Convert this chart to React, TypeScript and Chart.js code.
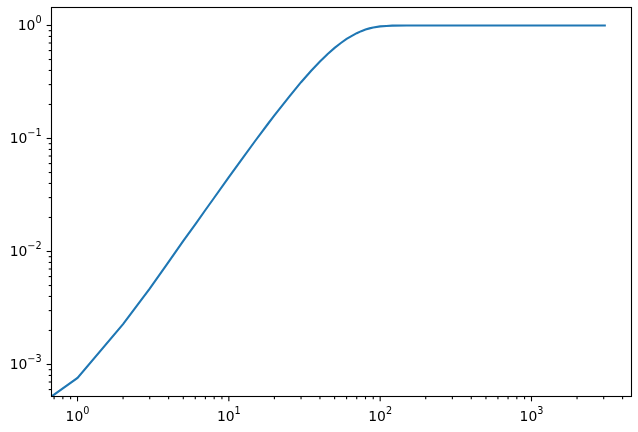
import React, { useEffect, useRef } from 'react';
import { Chart, registerables } from 'chart.js';

Chart.register(...registerables);

// Curve samples (x, y)
const xValues = [0.673, 1, 2, 3, 4, 5, 6, 7, 8, 10, 12, 15, 18, 20, 25, 30, 35, 40, 45, 50, 55, 60, 65, 70, 75, 80, 85, 90, 100, 110, 120, 150, 200, 3100];
const yValues = [0.000521, 0.00076, 0.00228, 0.0047, 0.0081, 0.0124, 0.0174, 0.0233, 0.0299, 0.0455, 0.0638, 0.096, 0.133, 0.16, 0.234, 0.315, 0.398, 0.48, 0.56, 0.634, 0.70, 0.76, 0.81, 0.855, 0.891, 0.921, 0.943, 0.961, 0.982, 0.991, 0.997, 0.9998, 1, 1];

// Axis ranges
const xRange = [0.673, 4580];
const yRange = [0.000521, 1.443];

// Decade tick labels: value, base text, exponent text
const xTickValues = [1, 10, 100, 1000];
const xTickBases = ['10', '10', '10', '10'];
const xTickExps = ['0', '1', '2', '3'];
const yTickValues = [0.001, 0.01, 0.1, 1];
const yTickBases = ['10', '10', '10', '10'];
const yTickExps = ['−3', '−2', '−1', '0'];

const FONT_FAMILY = '"DejaVu Sans"';
const BASE_SIZE = 13.9;
const SUP_SIZE = 9.7;
const SUP_SHIFT = 7;

function logTickValues(min: number, max: number): number[] {
  const out: number[] = [];
  const e0 = Math.floor(Math.log10(min));
  const e1 = Math.ceil(Math.log10(max));
  for (let e = e0; e <= e1; e++) {
    for (let m = 1; m < 10; m++) {
      const v = parseFloat((m * Math.pow(10, e)).toPrecision(12));
      if (v >= min && v <= max) out.push(v);
    }
  }
  return out;
}

function isDecade(v: number): boolean {
  const l = Math.log10(v);
  return Math.abs(l - Math.round(l)) < 1e-9;
}

function drawPowerLabel(ctx: CanvasRenderingContext2D, base: string, exp: string, x: number, baseline: number, align: 'center' | 'right') {
  ctx.font = `${BASE_SIZE}px ${FONT_FAMILY}`;
  const wb = ctx.measureText(base).width;
  ctx.font = `${SUP_SIZE}px ${FONT_FAMILY}`;
  const ws = ctx.measureText(exp).width;
  const total = wb + ws;
  const x0 = align === 'center' ? x - total / 2 : x - total;
  ctx.textAlign = 'left';
  ctx.textBaseline = 'alphabetic';
  ctx.font = `${BASE_SIZE}px ${FONT_FAMILY}`;
  ctx.fillText(base, x0, baseline);
  ctx.font = `${SUP_SIZE}px ${FONT_FAMILY}`;
  ctx.fillText(exp, x0 + wb, baseline - SUP_SHIFT);
}

const axesPlugin = {
  id: 'mplAxes',
  afterDraw(chart: any) {
    const { ctx, chartArea } = chart;
    const { left, right, top, bottom } = chartArea;
    const xs = chart.scales.x;
    const ys = chart.scales.y;
    const major = 4.86;
    const minor = 2.78;
    ctx.save();
    ctx.strokeStyle = '#000';
    ctx.lineWidth = 1.1;
    for (const v of logTickValues(xRange[0], xRange[1])) {
      const px = xs.getPixelForValue(v);
      const len = isDecade(v) ? major : minor;
      ctx.beginPath();
      ctx.moveTo(px, bottom);
      ctx.lineTo(px, bottom + len);
      ctx.stroke();
    }
    for (const v of logTickValues(yRange[0], yRange[1])) {
      const py = ys.getPixelForValue(v);
      const len = isDecade(v) ? major : minor;
      ctx.beginPath();
      ctx.moveTo(left, py);
      ctx.lineTo(left - len, py);
      ctx.stroke();
    }
    ctx.strokeRect(left, top, right - left, bottom - top);

    ctx.fillStyle = '#000';
    xTickValues.forEach((v, i) => {
      const px = xs.getPixelForValue(v);
      drawPowerLabel(ctx, xTickBases[i], xTickExps[i], px, bottom + 24, 'center');
    });
    yTickValues.forEach((v, i) => {
      const py = ys.getPixelForValue(v);
      drawPowerLabel(ctx, yTickBases[i], yTickExps[i], left - 9.9, py + 4.8, 'right');
    });
    ctx.restore();
  },
};

export default function App() {
  const canvasRef = useRef<HTMLCanvasElement | null>(null);

  useEffect(() => {
    if (!canvasRef.current) return;
    const points = xValues.map((x, i) => ({ x, y: yValues[i] }));
    const chart = new Chart(canvasRef.current, {
      type: 'line',
      data: {
        datasets: [
          {
            data: points,
            borderColor: '#1f77b4',
            borderWidth: 2.1,
            pointRadius: 0,
            tension: 0,
            fill: false,
            clip: 0,
          },
        ],
      },
      options: {
        responsive: false,
        animation: false,
        events: [],
        layout: { padding: { left: 0, right: 6.5, top: 7.5, bottom: 0 } },
        plugins: { legend: { display: false }, tooltip: { enabled: false } },
        scales: {
          x: {
            type: 'logarithmic',
            position: 'bottom',
            min: xRange[0],
            max: xRange[1],
            bounds: 'data',
            grid: { display: false, drawTicks: false },
            border: { display: false },
            ticks: { display: false },
            afterFit: (scale: any) => {
              scale.height = 35.5;
              scale.paddingLeft = 0;
              scale.paddingRight = 0;
              scale.paddingTop = 0;
              scale.paddingBottom = 0;
            },
          },
          y: {
            type: 'logarithmic',
            position: 'left',
            min: yRange[0],
            max: yRange[1],
            bounds: 'data',
            grid: { display: false, drawTicks: false },
            border: { display: false },
            ticks: { display: false },
            afterFit: (scale: any) => {
              scale.width = 51.5;
              scale.paddingLeft = 0;
              scale.paddingRight = 0;
              scale.paddingTop = 0;
              scale.paddingBottom = 0;
            },
          },
        },
      },
      plugins: [axesPlugin],
    });
    return () => chart.destroy();
  }, []);

  return (
    <div style={{ position: 'absolute', left: 0, top: 0, width: 638, height: 432, background: '#fff' }}>
      <canvas ref={canvasRef} width={638} height={432} />
    </div>
  );
}
